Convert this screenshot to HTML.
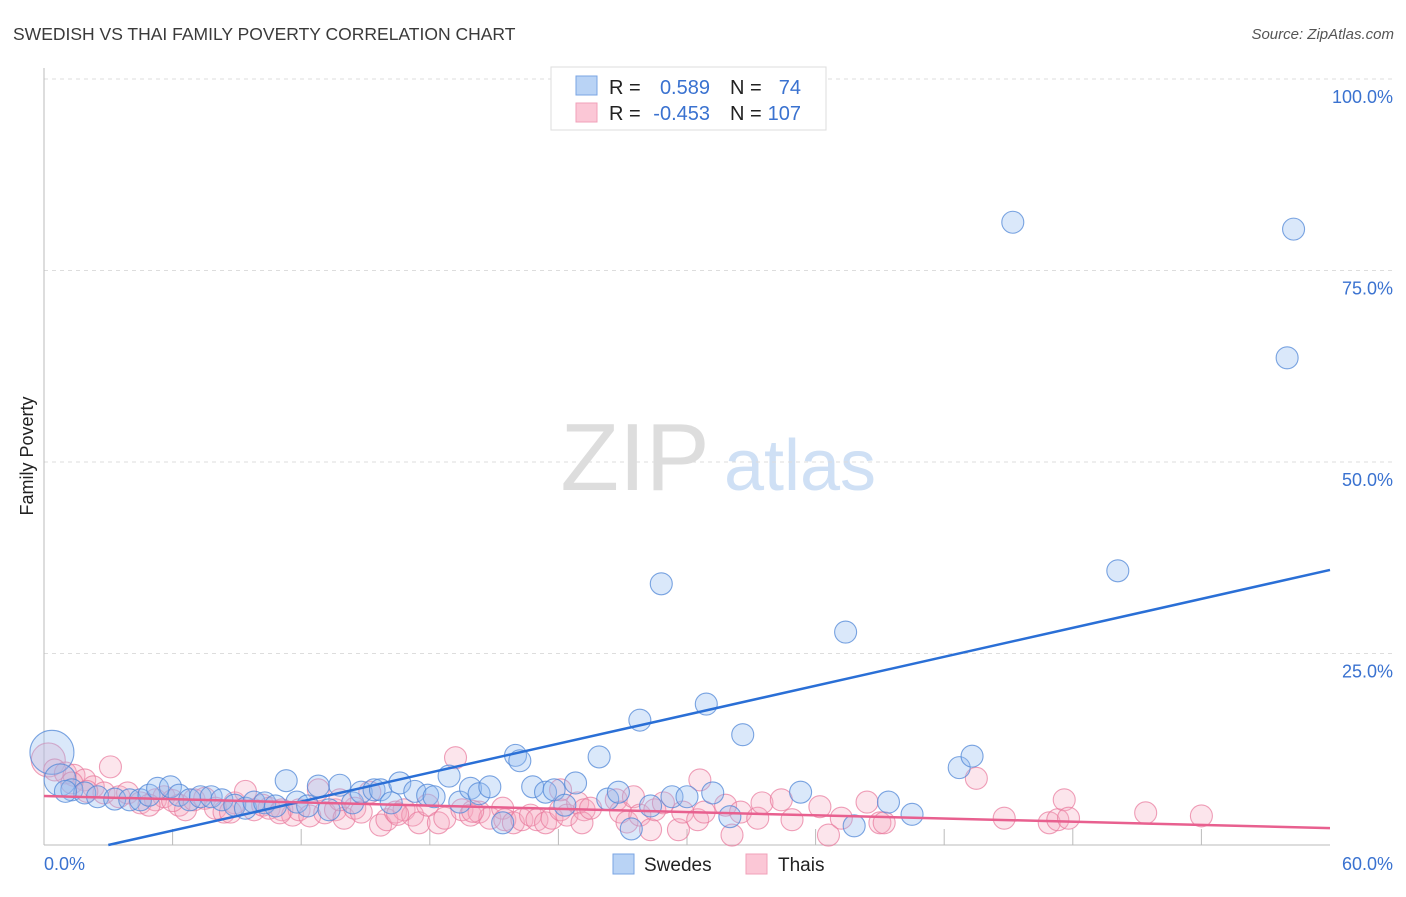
<!DOCTYPE html>
<html><head><meta charset="utf-8"><style>
body{margin:0;background:#fff;font-family:"Liberation Sans",sans-serif;}
svg text{font-family:"Liberation Sans",sans-serif;}
</style></head><body>
<svg id="chart" width="1406" height="892" xmlns="http://www.w3.org/2000/svg">
<text x="13" y="40" font-size="17.5" fill="#3a3a3a">SWEDISH VS THAI FAMILY POVERTY CORRELATION CHART</text>
<text x="1394" y="39" font-size="15" fill="#555" font-style="italic" text-anchor="end">Source: ZipAtlas.com</text>
<g>
<text x="635" y="490" font-size="96" fill="#ddd" font-family="Liberation Serif" text-anchor="middle">ZIP</text>
<text x="800" y="490" font-size="72" fill="#cfe0f5" text-anchor="middle">atlas</text>
</g>
<g id="grid"></g>
<g id="axes"></g>
<g id="pts"></g>
<g id="lines"></g>
<text transform="translate(33,456) rotate(-90)" font-size="18" fill="#222" text-anchor="middle">Family Poverty</text>
<g>
<rect x="551" y="67" width="275" height="63" fill="#fff" stroke="#ddd"/>
<rect x="576" y="76" width="21" height="19" fill="#b9d3f5" stroke="#7aa5e3"/>
<rect x="576" y="103" width="21" height="19" fill="#fbc7d6" stroke="#f0a0b9"/>
<text x="609" y="94" font-size="20" fill="#222">R =</text>
<text x="710" y="94" font-size="20" fill="#3a72d0" text-anchor="end">0.589</text>
<text x="730" y="94" font-size="20" fill="#222">N =</text>
<text x="801" y="94" font-size="20" fill="#3a72d0" text-anchor="end">74</text>
<text x="609" y="120" font-size="20" fill="#222">R =</text>
<text x="710" y="120" font-size="20" fill="#3a72d0" text-anchor="end">-0.453</text>
<text x="730" y="120" font-size="20" fill="#222">N =</text>
<text x="801" y="120" font-size="20" fill="#3a72d0" text-anchor="end">107</text>
</g>
<g>
<rect x="613" y="854" width="21" height="20" fill="#b9d3f5" stroke="#7aa5e3"/>
<text x="644" y="871" font-size="19" fill="#222">Swedes</text>
<rect x="746" y="854" width="21" height="20" fill="#fbc7d6" stroke="#f0a0b9"/>
<text x="778" y="871" font-size="19" fill="#222">Thais</text>
</g>
</svg>
<script>
const yTicks=[25,50,75,100];
const yTickLabels=["25.0%","50.0%","75.0%","100.0%"];
const xTicks=[6,12,18,24,30,36,42,48,54];
const swedesX=[0.37,0.75,1.3,1.9,2.5,3.3,4.0,4.5,4.9,5.3,5.9,6.3,6.8,7.3,7.8,8.3,8.9,9.4,9.8,10.3,10.8,11.3,11.8,12.3,12.8,13.3,13.8,14.4,14.8,15.4,15.7,16.2,16.6,17.3,17.9,18.2,18.9,19.4,19.9,20.3,20.8,21.4,22.0,22.2,22.8,23.4,23.8,24.3,24.8,25.9,26.3,26.8,27.4,27.8,28.3,28.8,29.3,30.0,30.9,31.2,32.0,32.6,35.3,37.4,37.8,39.4,40.5,42.7,43.3,45.2,50.1,58.0,58.3,1.0];
const swedesY=[12.1,8.5,7.2,6.8,6.3,6.0,5.9,5.9,6.5,7.4,7.6,6.5,5.9,6.3,6.3,5.9,5.2,4.8,5.6,5.5,5.1,8.4,5.6,5.1,7.7,4.6,7.8,5.5,6.9,7.2,7.2,5.5,8.1,7.0,6.5,6.3,9.0,5.6,7.4,6.7,7.6,2.9,11.7,11.0,7.6,6.9,7.2,5.2,8.1,11.5,6.0,6.9,2.1,16.3,5.1,34.1,6.3,6.3,18.4,6.8,3.7,14.4,6.9,27.8,2.5,5.6,4.0,10.1,11.6,81.3,35.8,63.6,80.4,7.0];
const thaisX=[0.2,0.5,1.0,1.4,1.9,2.3,3.1,2.8,3.5,3.9,4.5,5.2,5.6,6.3,6.6,7.0,7.5,8.0,8.4,8.9,9.4,9.8,10.2,10.5,11.1,11.6,11.9,12.4,12.8,13.1,13.6,14.0,14.5,14.8,15.2,15.7,16.0,16.4,16.8,17.2,17.5,17.9,18.4,18.7,19.2,19.5,19.9,20.3,20.8,21.4,21.5,21.9,22.3,22.7,23.0,23.4,23.7,24.1,24.4,24.9,25.2,25.1,25.5,26.7,26.9,27.2,27.5,27.8,28.3,28.5,28.9,29.6,29.8,30.5,30.6,30.8,31.8,32.1,32.5,33.3,33.5,34.4,34.9,36.2,36.6,37.2,38.4,39.0,39.2,43.5,44.8,46.9,47.3,47.6,47.8,51.4,54.0,1.3,4.9,8.7,13.8,24.1,2.0,6.0,11.0,16.5,20.0];
const thaisY=[11.1,9.8,9.4,9.1,8.5,7.6,10.2,6.8,6.3,6.8,5.5,5.9,6.3,5.2,4.6,5.9,6.1,4.8,4.3,5.5,7.0,4.6,5.2,4.8,4.6,3.9,4.6,3.8,7.2,4.2,4.6,3.5,4.8,4.3,6.9,2.6,3.3,4.3,4.6,3.9,2.9,5.2,2.9,3.5,11.4,4.6,3.9,4.3,3.5,4.8,3.3,2.9,3.3,3.9,3.3,2.9,3.5,4.6,3.9,5.5,4.6,2.9,4.8,5.9,4.3,3.0,6.3,3.9,2.0,4.6,5.5,2.0,4.3,3.3,8.5,4.3,5.2,1.3,4.3,3.5,5.5,5.9,3.3,5.0,1.3,3.5,5.6,2.9,2.9,8.7,3.5,2.9,3.3,5.9,3.5,4.2,3.8,8.1,5.2,4.3,5.9,7.2,7.0,5.8,4.2,4.0,4.4];
const swedesR=[22,16];
const trendSwedes=[-1.89,0.63];
const trendThais=[6.4,-0.07];
const X0=44,X1=1330,Y0=845,Y100=79;
function sx(v){return X0+(X1-X0)*v/60;}
function sy(v){return Y0-(Y0-Y100)*v/100;}
const NS="http://www.w3.org/2000/svg";
function mk(t,a,p){const e=document.createElementNS(NS,t);for(const k in a)e.setAttribute(k,a[k]);p.appendChild(e);return e;}
const grid=document.getElementById('grid'),axes=document.getElementById('axes'),pts=document.getElementById('pts'),lines=document.getElementById('lines');
yTicks.forEach((t,i)=>{
 const g=mk('line',{x1:X0,x2:1394,y1:sy(t),y2:sy(t),stroke:'#ddd','stroke-dasharray':'4,4'},grid);
 
 
 const l=mk('text',{x:1393,y:sy(t)+24,'font-size':18,fill:'#3a72d0','text-anchor':'end'},axes);
 l.textContent=yTickLabels[i];
 
 
});
mk('line',{x1:X0,x2:X0,y1:68,y2:Y0,stroke:'#bbb'},axes);
mk('line',{x1:X0,x2:X1,y1:Y0,y2:Y0,stroke:'#bbb'},axes);
xTicks.forEach(t=>{
 const k=mk('line',{x1:sx(t),x2:sx(t),y1:Y0-16,y2:Y0,stroke:'#bbb'},axes);
 
 
});
const xl0=mk('text',{x:44,y:870,'font-size':18,fill:'#3a72d0'},axes);xl0.textContent='0.0%';


const xl1=mk('text',{x:1393,y:870,'font-size':18,fill:'#3a72d0','text-anchor':'end'},axes);xl1.textContent='60.0%';


thaisX.forEach((v,i)=>{
 const c=mk('circle',{cx:sx(v),cy:sy(thaisY[i]),r:i==0?17:11,fill:'rgba(246,168,192,0.3)',stroke:'rgba(232,120,155,0.7)','stroke-width':1.1},pts);
 
 
});
swedesX.forEach((v,i)=>{
 const c=mk('circle',{cx:sx(v),cy:sy(swedesY[i]),r:swedesR[i]||11,fill:'rgba(150,190,240,0.35)',stroke:'rgba(80,135,215,0.75)','stroke-width':1.1},pts);
 
 
});
const xs=-trendSwedes[0]/trendSwedes[1];
const l1=mk('line',{x1:sx(xs),y1:sy(0),x2:sx(60),y2:sy(trendSwedes[0]+trendSwedes[1]*60),stroke:'#2a6fd6','stroke-width':2.5},lines);


const l2=mk('line',{x1:sx(0),y1:sy(trendThais[0]),x2:sx(60),y2:sy(trendThais[0]+trendThais[1]*60),stroke:'#e8608f','stroke-width':2.5},lines);


</script>
</body></html>
